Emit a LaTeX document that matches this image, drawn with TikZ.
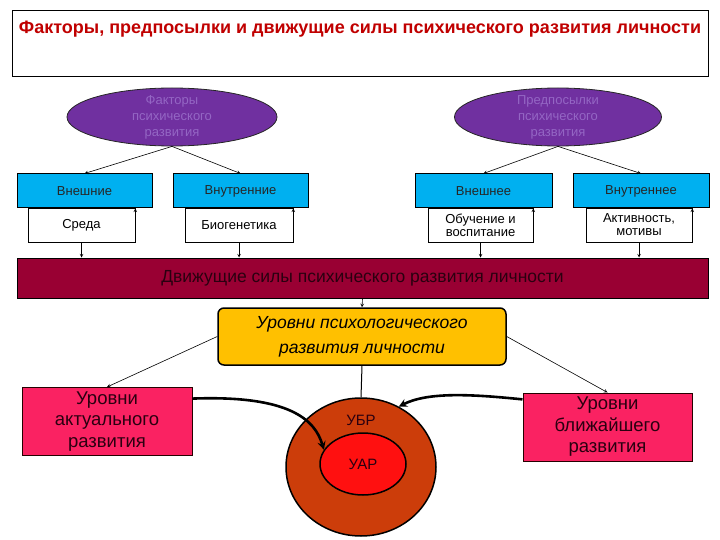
\documentclass[tikz,border=0pt]{standalone}
\usepackage{fontspec}
\setmainfont{Liberation Sans}
\usepackage{xcolor}
\definecolor{titlered}{HTML}{C00000}
\definecolor{ovalpurple}{HTML}{7030A0}
\definecolor{ovalink}{HTML}{9466C4}
\definecolor{boxblue}{HTML}{00B0F0}
\definecolor{barmaroon}{HTML}{990033}
\definecolor{levelgold}{HTML}{FFC000}
\definecolor{boxpink}{HTML}{FA2262}
\definecolor{ringorange}{HTML}{CC3D0A}
\definecolor{corered}{HTML}{FF1010}
\definecolor{darkink}{HTML}{2A0010}
\usepackage{tikz}
\usetikzlibrary{shapes.geometric,calc}

\begin{document}
\begin{tikzpicture}[x=1pt, y=-1pt,
        titlebox/.style={draw, line width=0.8pt, minimum width=696pt, inner xsep=0pt, inner ysep=8pt, text height=16pt, text depth=34pt, text=titlered, font=\fontsize{18}{20}\selectfont\bfseries},
        oval/.style={ellipse, draw=black!85, fill=ovalpurple, line width=0.8pt, inner sep=0pt},
        ovaltxt/.style={text=ovalink, align=center, font=\fontsize{13}{16}\selectfont},
        bluebox/.style={draw, fill=boxblue, line width=1pt, minimum height=34pt, text=black!85, font=\fontsize{13}{15}\selectfont},
        whitebox/.style={draw, fill=white, line width=0.6pt, minimum height=34pt, align=center, font=\fontsize{13}{13}\selectfont},
        forcebar/.style={draw, fill=barmaroon, line width=1pt, minimum width=691pt, minimum height=40pt, text=darkink, font=\fontsize{17.5}{18}\selectfont},
        levelbox/.style={draw, rounded corners=6pt, fill=levelgold, line width=1.5pt, minimum width=288pt, minimum height=57pt, align=center, font=\fontsize{17.5}{25}\selectfont\itshape},
        pinkbox/.style={draw=black!85!red, fill=boxpink, line width=1pt, minimum height=68pt, align=center, text=darkink, font=\fontsize{18.5}{21.5}\selectfont},
        ring/.style={ellipse, draw, line width=1.5pt, inner sep=0pt},
        ringtxt/.style={text=darkink, font=\fontsize{15}{17}\selectfont},
        arr/.style={->, line width=0.6pt, >=stealth},
        bigarr/.style={->, line width=2.6pt, >=stealth},
    ]
    \useasboundingbox (0,0) rectangle (720,540);

    % === Title ===
    \node[titlebox] (title) at (360,43) {Факторы, предпосылки и движущие силы психического развития личности};

    % === Row 1: factors and prerequisites ===
    \node[oval, minimum width=210pt, minimum height=58pt,
          label={[ovaltxt]center:Факторы\\психического\\развития}] (factors) at (172,117) {};
    \node[oval, minimum width=207pt, minimum height=58pt,
          label={[ovaltxt]center:Предпосылки\\психического\\развития}] (prereq) at (558,117) {};

    \node[bluebox, minimum width=135pt] (outer1) at (84.5,191) {Внешние};
    \node[bluebox, minimum width=135pt] (inner1) at (240.5,191) {Внутренние};
    \node[bluebox, minimum width=137pt] (outer2) at (483.5,191) {Внешнее};
    \node[bluebox, minimum width=136pt] (inner2) at (641,191) {Внутреннее};

    \draw[arr] (factors.south) -- (outer1.north);
    \draw[arr] (factors.south) -- (inner1.north);
    \draw[arr] (prereq.south) -- (outer2.north);
    \draw[arr] (prereq.south) -- (inner2.north);

    % === Row 2: sources ===
    \node[whitebox, minimum width=107pt] (milieu) at (81.5,225) {Среда};
    \node[whitebox, minimum width=108pt] (biogen) at (239,225) {Биогенетика};
    \node[whitebox, minimum width=105pt] (teaching) at (480.5,225) {Обучение и\\воспитание};
    \node[whitebox, minimum width=106pt] (activity) at (639,225) {Активность,\\мотивы};

    \draw[arr] (milieu.south east) -- (milieu.south east |- outer1.south);
    \draw[arr] (biogen.south east) -- (biogen.south east |- inner1.south);
    \draw[arr] (teaching.south east) -- (teaching.south east |- outer2.south);
    \draw[arr] (activity.south east) -- (activity.south east |- inner2.south);

    % === Row 3: driving forces ===
    \node[forcebar] (forces) at (362.5,278) {Движущие силы психического развития личности};

    \draw[arr] (milieu.south) -- (milieu.south |- forces.north);
    \draw[arr] (biogen.south) -- (biogen.south |- forces.north);
    \draw[arr] (teaching.south) -- (teaching.south |- forces.north);
    \draw[arr] (activity.south) -- (activity.south |- forces.north);

    % === Row 4: levels ===
    \node[levelbox] (levels) at (362,336.5) {\raisebox{-3pt}{Уровни психологического}\\\raisebox{-3pt}{развития личности}};
    \draw[arr] (forces.south) -- (levels.north);

    \node[pinkbox, minimum width=170pt] (actual) at (107,421.5) {Уровни\\актуального\\развития};
    \node[pinkbox, minimum width=169pt] (nearest) at (607.5,427) {Уровни\\ближайшего\\развития};

    \node[ring, fill=ringorange, minimum width=150pt, minimum height=138pt,
          label={[ringtxt, yshift=47pt]center:УБР}] (zbr) at (361,467) {};
    \node[ring, fill=corered, minimum width=86pt, minimum height=62pt, ringtxt] (zar) at (363,464) {УАР};

    \draw[arr] (levels.west) -- (actual.north);
    \draw[arr] (levels.east) -- (nearest.north);
    \draw[line width=1pt] (levels.south) -- (zbr.north);

    \draw[bigarr] (actual.15) .. controls (290,395) and (315,420) .. (zar.160);
    \draw[bigarr] (nearest.162) .. controls (470,394) and (428,392) .. (zbr.58);

\end{tikzpicture}
\end{document}
